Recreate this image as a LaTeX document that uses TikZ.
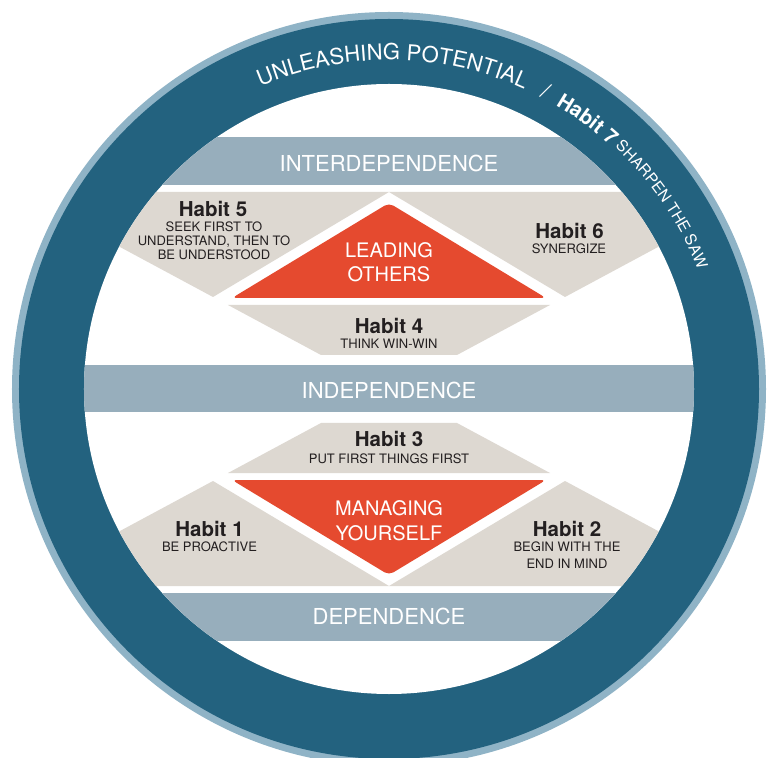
\documentclass[tikz,border=0pt]{standalone}
\usepackage{fontspec}
\setmainfont{TeX Gyre Heros}
\usetikzlibrary{decorations.text}

\definecolor{ringdark}{HTML}{23627F}
\definecolor{ringlight}{HTML}{8FB3C6}
\definecolor{bandblue}{HTML}{97AEBC}
\definecolor{habitgray}{HTML}{DDD8D1}
\definecolor{corered}{HTML}{E54A2F}
\definecolor{inkdark}{HTML}{231F20}

\newcommand{\ringfont}{\fontsize{22}{26}\selectfont}
\newcommand{\sevenfont}{\bfseries\fontsize{20.5}{24}\selectfont}
\newcommand{\sawfont}{\fontsize{15.5}{18}\selectfont}

\tikzset{
  band/.style={fill=bandblue},
  habitarea/.style={fill=habitgray},
  corearea/.style={fill=corered,rounded corners=5pt},
  stagelabel/.style={anchor=north,inner sep=0pt,text=white,font=\fontsize{22}{26}\selectfont},
  corelabel/.style={anchor=north,inner sep=0pt,text=white,align=center,font=\fontsize{20}{24}\selectfont},
  habittitle/.style={anchor=north,inner sep=0pt,text=inkdark,font=\bfseries\fontsize{20.5}{24}\selectfont},
  habittext/.style={anchor=north,inner sep=0pt,text=inkdark,align=center,font=\fontsize{13}{13.8}\selectfont},
  ringtext/.style={decorate,decoration={text along path,text color=white,text={#1}}}
}

\begin{document}
\begin{tikzpicture}
  \useasboundingbox (-389pt,-368pt) rectangle (384pt,389pt);
  % outer ring
  \fill[ringlight] (0,0) circle (377pt);
  \fill[ringdark] (0,0) circle (370pt);
  \fill[white] (0,0) circle (305pt);
  \begin{scope}
    \clip (0,0) circle (305pt);
    % stages
    \fill[band] (-305pt,204pt) rectangle (305pt,252pt);
    \fill[band] (-305pt,-23.5pt) rectangle (305pt,23.5pt);
    \fill[band] (-305pt,-252pt) rectangle (305pt,-204pt);
    % habits 5, 6, 4
    \fill[habitarea] (-349pt,197pt) -- (0pt,197pt) -- (-176pt,92pt) -- (-349pt,185pt) -- cycle;
    \fill[habitarea] (349pt,197pt) -- (0pt,197pt) -- (176pt,92pt) -- (349pt,185pt) -- cycle;
    \fill[habitarea] (-161pt,84pt) -- (161pt,84pt) -- (68pt,34pt) -- (-68pt,34pt) -- cycle;
    % habits 3, 1, 2
    \fill[habitarea] (-68pt,-34pt) -- (68pt,-34pt) -- (161pt,-84pt) -- (-161pt,-84pt) -- cycle;
    \fill[habitarea] (-349pt,-197pt) -- (0pt,-197pt) -- (-176pt,-92pt) -- (-349pt,-185pt) -- cycle;
    \fill[habitarea] (349pt,-197pt) -- (0pt,-197pt) -- (176pt,-92pt) -- (349pt,-185pt) -- cycle;
  \end{scope}
  % public and private victory
  \fill[corearea] (0pt,186pt) -- (157pt,91pt) -- (-157pt,91pt) -- cycle;
  \fill[corearea] (0pt,-186pt) -- (-157pt,-91pt) -- (157pt,-91pt) -- cycle;

  \node[stagelabel] (interdep) at (0pt,234pt) {INTERDEPENDENCE};
  \node[stagelabel] (indep) at (0pt,7.3pt) {INDEPENDENCE};
  \node[stagelabel] (dep) at (0pt,-219pt) {DEPENDENCE};

  \node[corelabel] (leading) at (0pt,146.3pt) {LEADING\\OTHERS};
  \node[corelabel] (managing) at (0pt,-111pt) {MANAGING\\[1pt]YOURSELF};

  \node[habittitle] (habit5) at (-176pt,188.3pt) {Habit 5};
  \node[habittext] (habit5txt) at (-175pt,167.3pt) {SEEK FIRST TO\\UNDERSTAND, THEN TO\\BE UNDERSTOOD};
  \node[habittitle] (habit6) at (180.5pt,165.7pt) {Habit 6};
  \node[habittext] (habit6txt) at (180pt,145.7pt) {SYNERGIZE};
  \node[habittitle] (habit4) at (0pt,70.7pt) {Habit 4};
  \node[habittext] (habit4txt) at (0pt,49.7pt) {THINK WIN-WIN};
  \node[habittitle] (habit3) at (0pt,-42pt) {Habit 3};
  \node[habittext] (habit3txt) at (0pt,-64.3pt) {PUT FIRST THINGS FIRST};
  \node[habittitle] (habit1) at (-179.5pt,-132pt) {Habit 1};
  \node[habittext] (habit1txt) at (-179.5pt,-152.7pt) {BE PROACTIVE};
  \node[habittitle] (habit2) at (178pt,-132pt) {Habit 2};
  \node[habittext] (habit2txt) at (178pt,-152.7pt) {BEGIN WITH THE\\[3.5pt]END IN MIND};

  % habit 7 round the ring
  \path[ringtext={|\ringfont|UNLEASHING POTENTIAL}] (113:329pt) arc[start angle=113,end angle=62,radius=329pt];
  \path[ringtext={|\ringfont|/}] (62.8:329pt) arc[start angle=62.8,end angle=57,radius=329pt];
  \path[ringtext={|\sevenfont|Habit 7}] (59.6:329pt) arc[start angle=59.6,end angle=45,radius=329pt];
  \path[ringtext={|\sawfont|SHARPEN THE SAW}] (47:331pt) arc[start angle=47,end angle=15,radius=331pt];
\end{tikzpicture}
\end{document}
